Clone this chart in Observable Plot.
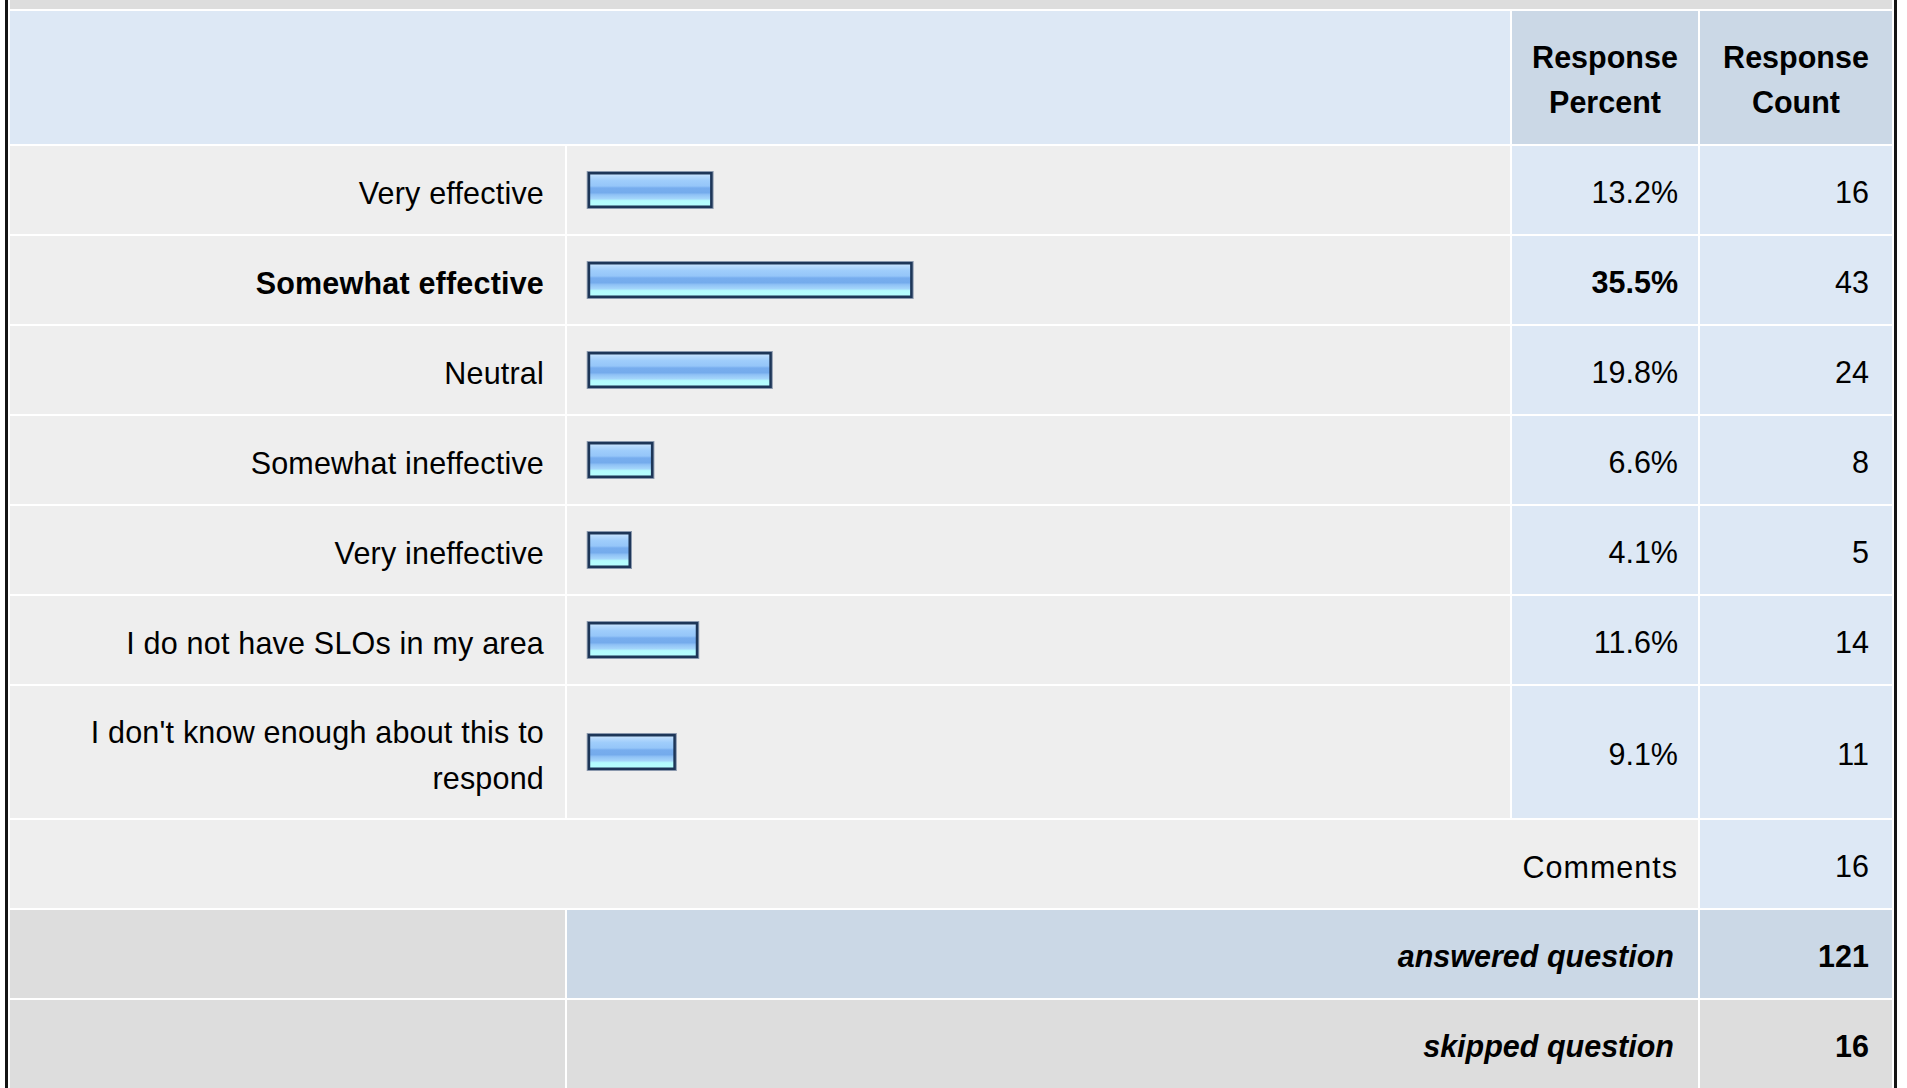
<!DOCTYPE html>
<html>
<head>
<meta charset="utf-8">
<script src="https://cdn.jsdelivr.net/npm/d3@7"></script>
<script src="https://cdn.jsdelivr.net/npm/@observablehq/plot@0.6"></script>
<style>
  html, body { margin: 0; padding: 0; background: #ffffff; }
  body { width: 1907px; height: 1088px; overflow: hidden; position: relative;
         font-family: "Liberation Sans", Arial, Helvetica, sans-serif; font-size: 30.5px; color: #000; }
  table { position: absolute; left: 5px; top: -2px; border-collapse: separate; border-spacing: 2px;
          table-layout: fixed; width: 1892px; box-sizing: border-box;
          border-left: 3px solid #141414; border-right: 3px solid #141414; border-top: 0; border-bottom: 0; }
  td { padding: 0; margin: 0; vertical-align: middle; box-sizing: border-box; }
  .band { background: #dddddd; height: 9px; }
  .hdrL { background: #dde8f5; height: 133px; }
  .hdrR { background: #cbd8e6; text-align: center; font-weight: bold; line-height: 45px; padding-top: 4px; }
  .lab { background: #eeeeee; text-align: right; }
  .lab div { padding: 5px 21px 0 10px; line-height: 46px; letter-spacing: 0.2px; }
  .barc { background: #eeeeee; }
  .barc svg { display: block; }
  .pct { background: #dde8f5; text-align: right; }
  .pct div { padding: 5px 20px 0 0; }
  .cnt { background: #dde8f5; text-align: right; }
  .cnt div { padding: 5px 23px 0 0; }
  .bold { font-weight: bold; }
  .gray { background: #dddddd; }
  .steel { background: #cbd8e6; }
  .summ { text-align: right; font-weight: bold; font-style: italic; }
  .summ div { padding: 5px 24px 0 0; }
  .comments div { padding: 5px 20px 0 0; letter-spacing: 1px; }
</style>
</head>
<body>
<svg width="0" height="0" style="position:absolute">
  <defs>
    <linearGradient id="barGrad" x1="0" y1="0" x2="0" y2="1">
      <stop offset="0%" stop-color="#d2e9fe"/>
      <stop offset="10%" stop-color="#b5d9fd"/>
      <stop offset="22%" stop-color="#9fcdfb"/>
      <stop offset="38%" stop-color="#95c6f9"/>
      <stop offset="44%" stop-color="#77adee"/>
      <stop offset="58%" stop-color="#74abec"/>
      <stop offset="64%" stop-color="#8fc1f5"/>
      <stop offset="76%" stop-color="#a4d5fb"/>
      <stop offset="82%" stop-color="#b3fbfe"/>
      <stop offset="100%" stop-color="#b6ffff"/>
    </linearGradient>
  </defs>
</svg>
<script>
// ---- data ----
const categories = [
  "Very effective",
  "Somewhat effective",
  "Neutral",
  "Somewhat ineffective",
  "Very ineffective",
  "I do not have SLOs in my area",
  "I don't know enough about this to respond"
];
const percents = [13.2, 35.5, 19.8, 6.6, 4.1, 11.6, 9.1];
const counts = [16, 43, 24, 8, 5, 14, 11];
const headerLabels = ["Response\nPercent", "Response\nCount"];
const commentsLabel = "Comments";
const commentsCount = 16;
const summaryLabels = ["answered question", "skipped question"];
const summaryCounts = [121, 16];

// ---- layout ----
const rowHeights = [88, 88, 88, 88, 88, 88, 132];
const barCellWidth = 943;
const maxIdx = percents.indexOf(d3.max(percents));

const table = document.createElement("table");
const colgroup = document.createElement("colgroup");
[555, 943, 186, 192].forEach(w => {
  const c = document.createElement("col");
  c.style.width = w + "px";
  colgroup.appendChild(c);
});
table.appendChild(colgroup);

function tr() { const r = document.createElement("tr"); table.appendChild(r); return r; }
function td(row, cls, colspan, height) {
  const c = document.createElement("td");
  if (cls) c.className = cls;
  if (colspan) c.colSpan = colspan;
  if (height) c.style.height = height + "px";
  row.appendChild(c);
  return c;
}
function addText(cell, text) {
  const d = document.createElement("div");
  d.textContent = text;
  cell.appendChild(d);
  return d;
}

// top band (cut off previous row)
td(tr(), "band", 4, 9);

// header
const hr = tr();
td(hr, "hdrL", 2, 133);
headerLabels.forEach(h => {
  const c = td(hr, "hdrR", 1, 133);
  h.split("\n").forEach(line => { const d = document.createElement("div"); d.textContent = line; c.appendChild(d); });
});

// option rows
categories.forEach((cat, i) => {
  const h = rowHeights[i];
  const r = tr();
  const l = td(r, "lab" + (i === maxIdx ? " bold" : ""), 1, h);
  addText(l, cat);
  const b = td(r, "barc", 1, h);
  const barOuterH = 36, sw = 2.5;
  const inner = barOuterH - sw;
  const insetTop = (h - inner) / 2;
  const chart = Plot.plot({
    width: barCellWidth,
    height: h,
    margin: 0,
    style: { background: "transparent", overflow: "visible" },
    x: { domain: [0, 100], range: [25.95, 25.95 + 897], axis: null },
    y: { axis: null },
    marks: [
      Plot.barX([percents[i]], {
        x: d => d,
        fill: "none",
        stroke: "#8a98ad",
        strokeWidth: 4.5,
        insetTop, insetBottom: h - insetTop - inner, insetLeft: -4
      }),
      Plot.barX([percents[i]], {
        x: d => d,
        fill: "url(#barGrad)",
        stroke: "#1d3658",
        strokeWidth: sw,
        insetTop, insetBottom: h - insetTop - inner, insetLeft: -4
      })
    ]
  });
  b.appendChild(chart);
  const p = td(r, "pct" + (i === maxIdx ? " bold" : ""), 1, h);
  addText(p, percents[i].toFixed(1) + "%");
  const c = td(r, "cnt", 1, h);
  addText(c, String(counts[i]));
});

// comments row
const cr = tr();
addText(td(cr, "lab comments", 3, 88), commentsLabel);
addText(td(cr, "cnt", 1, 88), String(commentsCount));

// summary rows
summaryLabels.forEach((lab, i) => {
  const r = tr();
  td(r, "gray", 1, 88);
  addText(td(r, "summ " + (i === 0 ? "steel" : "gray"), 2, 88), lab);
  addText(td(r, "cnt bold " + (i === 0 ? "steel" : "gray"), 1, 88), String(summaryCounts[i]));
});

document.body.appendChild(table);
</script>
</body>
</html>
